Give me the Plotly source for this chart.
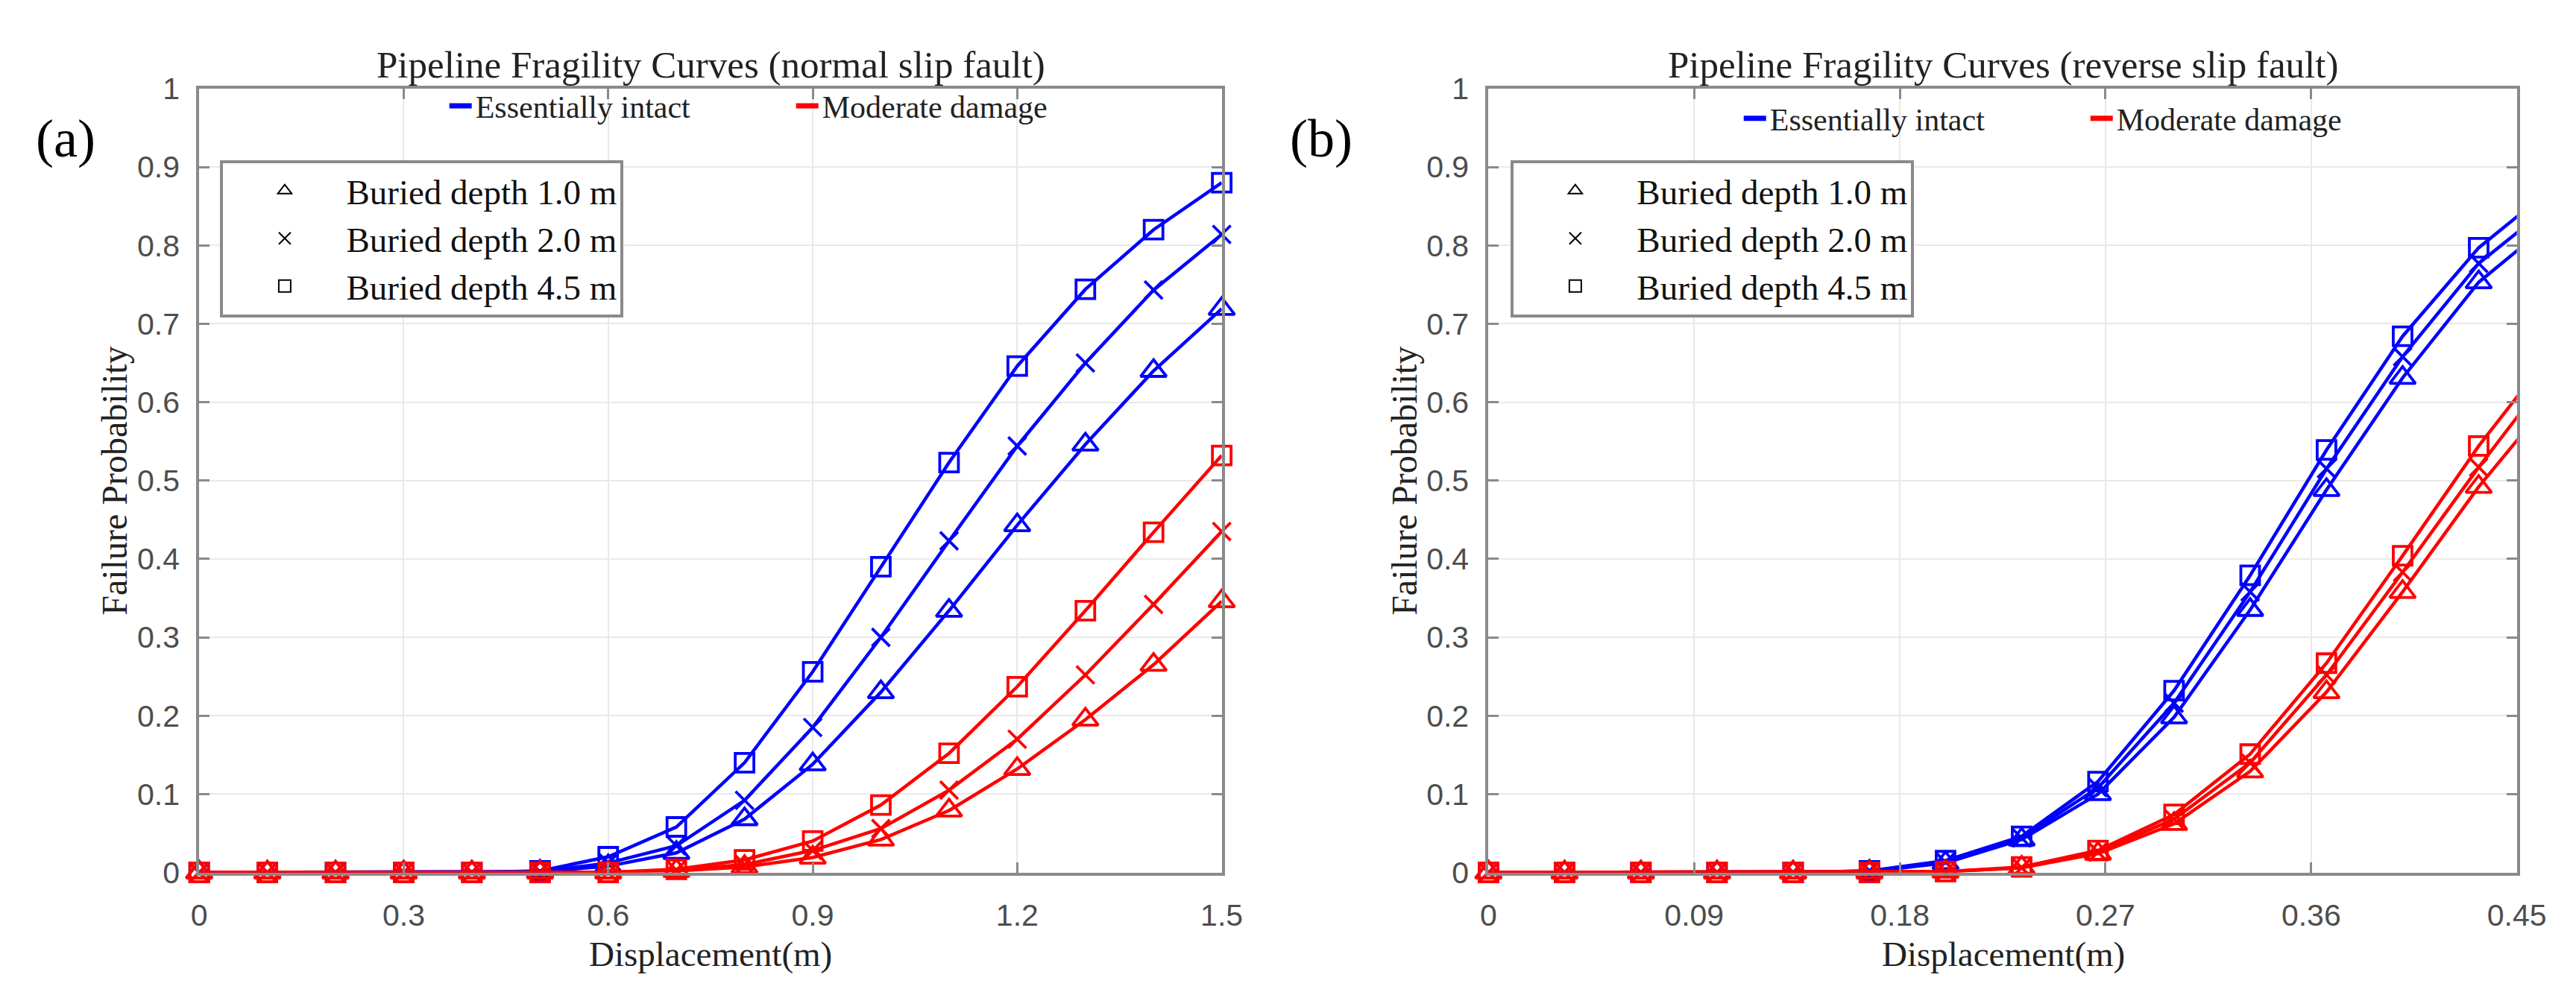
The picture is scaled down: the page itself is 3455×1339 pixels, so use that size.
import plotly.graph_objects as go

# displacement steps of the two panels
disp_normal = [0, 0.1, 0.2, 0.3, 0.4, 0.5, 0.6, 0.7, 0.8, 0.9, 1.0, 1.1, 1.2, 1.3, 1.4, 1.5]
disp_reverse = [0, 0.0333, 0.0667, 0.1, 0.1333, 0.1667, 0.2, 0.2333, 0.2667,
                0.3, 0.3333, 0.3667, 0.4, 0.4333, 0.4667]

# (a) normal slip fault
ei_10_normal = [0, 0, 0, 0, 0, 0.001, 0.008, 0.025, 0.068, 0.138, 0.23, 0.334, 0.443, 0.546, 0.64, 0.719]
ei_20_normal = [0, 0, 0, 0, 0, 0.001, 0.012, 0.034, 0.092, 0.185, 0.30, 0.423, 0.544, 0.65, 0.743, 0.814]
ei_45_normal = [0, 0, 0, 0, 0, 0.002, 0.02, 0.058, 0.14, 0.256, 0.39, 0.523, 0.646, 0.744, 0.82, 0.88]
md_10_normal = [0, 0, 0, 0, 0, 0, 0, 0.002, 0.007, 0.019, 0.042, 0.079, 0.132, 0.195, 0.265, 0.346]
md_20_normal = [0, 0, 0, 0, 0, 0, 0, 0.003, 0.01, 0.028, 0.056, 0.105, 0.17, 0.252, 0.342, 0.435]
md_45_normal = [0, 0, 0, 0, 0, 0, 0, 0.004, 0.016, 0.04, 0.086, 0.152, 0.237, 0.334, 0.434, 0.532]

# (b) reverse slip fault
ei_10_reverse = [0, 0, 0, 0, 0, 0.001, 0.012, 0.042, 0.100, 0.198, 0.335, 0.488, 0.631, 0.753, 0.833]
ei_20_reverse = [0, 0, 0, 0, 0, 0.002, 0.013, 0.044, 0.108, 0.216, 0.358, 0.515, 0.658, 0.777, 0.855]
ei_45_reverse = [0, 0, 0, 0, 0, 0.002, 0.015, 0.046, 0.116, 0.232, 0.379, 0.539, 0.684, 0.797, 0.876]
md_10_reverse = [0, 0, 0, 0, 0, 0, 0.001, 0.006, 0.024, 0.062, 0.129, 0.230, 0.358, 0.492, 0.61]
md_20_reverse = [0, 0, 0, 0, 0, 0, 0.001, 0.006, 0.026, 0.068, 0.140, 0.252, 0.383, 0.517, 0.644]
md_45_reverse = [0, 0, 0, 0, 0, 0, 0.001, 0.007, 0.028, 0.074, 0.151, 0.267, 0.404, 0.544, 0.669]

depth_names = ["Buried depth 1.0 m", "Buried depth 2.0 m", "Buried depth 4.5 m"]
state_names = ["Essentially intact", "Moderate damage"]
x_ticks_normal = [0, 0.3, 0.6, 0.9, 1.2, 1.5]
x_ticks_reverse = [0, 0.09, 0.18, 0.27, 0.36, 0.45]
y_ticks = [0, 0.1, 0.2, 0.3, 0.4, 0.5, 0.6, 0.7, 0.8, 0.9, 1]

BLUE = "rgb(0,0,255)"
RED = "rgb(255,0,0)"
SERIF = "Liberation Serif, Times New Roman, serif"
SANS = "Liberation Sans, Arial, sans-serif"
symbols = ["triangle-up-open", "x-thin-open", "square-open"]
sizes = [30, 24, 25]

fig = go.Figure()

panels = [
    ("x", "y", disp_normal,
     [ei_10_normal, ei_20_normal, ei_45_normal],
     [md_10_normal, md_20_normal, md_45_normal], "legend", "legend2"),
    ("x2", "y2", disp_reverse,
     [ei_10_reverse, ei_20_reverse, ei_45_reverse],
     [md_10_reverse, md_20_reverse, md_45_reverse], "legend3", "legend4"),
]

for xa, ya, xs, ei_list, md_list, leg_lines, leg_marks in panels:
    for color, series in [(BLUE, ei_list), (RED, md_list)]:
        for k, ys in enumerate(series):
            fig.add_trace(go.Scatter(
                x=xs, y=ys, xaxis=xa, yaxis=ya, mode="lines+markers",
                line=dict(color=color, width=4.5),
                marker=dict(symbol=symbols[k], size=sizes[k], color=color,
                            line=dict(color=color, width=3.8)),
                cliponaxis=False, showlegend=False, hoverinfo="skip"))
    # legend entries: damage state lines
    for name, color in zip(state_names, [BLUE, RED]):
        fig.add_trace(go.Scatter(
            x=[None], y=[None], xaxis=xa, yaxis=ya, mode="lines", name=name,
            line=dict(color=color, width=7), legend=leg_lines))
    # legend entries: buried depth markers
    for k, name in enumerate(depth_names):
        fig.add_trace(go.Scatter(
            x=[None], y=[None], xaxis=xa, yaxis=ya, mode="markers", name=name,
            marker=dict(symbol=symbols[k], size=sizes[k], color="black",
                        line=dict(color="black", width=2)),
            legend=leg_marks))

axis_common = dict(
    showline=True, linecolor="#8a8a8a", linewidth=4, mirror="ticks",
    ticks="inside", ticklen=14, tickwidth=3, tickcolor="#8a8a8a",
    showgrid=True, gridcolor="#e9e9e9", gridwidth=2, zeroline=False,
    tickfont=dict(family=SANS, size=41, color="#4d4d4d"),
)

ydom = [0.1187, 0.932]
line_legend = dict(orientation="h", xanchor="left", yanchor="middle",
                   bgcolor="rgba(0,0,0,0)", borderwidth=0, entrywidth=420,
                   font=dict(family=SERIF, size=42, color="#222"))
mark_legend = dict(xanchor="left", yanchor="top", bgcolor="white",
                   bordercolor="#8a8a8a", borderwidth=4, itemwidth=155,
                   font=dict(family=SERIF, size=47, color="#111"))

fig.update_layout(
    width=3455, height=1339,
    margin=dict(l=0, r=0, t=0, b=0),
    paper_bgcolor="white", plot_bgcolor="white",
    xaxis=dict(axis_common, domain=[0.0729, 0.4758], range=[0, 1.5],
               tickvals=x_ticks_normal, ticktext=[str(v) for v in x_ticks_normal],
               ticklabelstandoff=18, anchor="y"),
    yaxis=dict(axis_common, domain=ydom, range=[0, 1], tickvals=y_ticks,
               ticktext=[str(v) for v in y_ticks], ticklabelstandoff=14, anchor="x"),
    xaxis2=dict(axis_common, domain=[0.5809, 0.9861], range=[0, 0.45],
                tickvals=x_ticks_reverse, ticktext=[str(v) for v in x_ticks_reverse],
                ticklabelstandoff=18, anchor="y2"),
    yaxis2=dict(axis_common, domain=ydom, range=[0, 1], tickvals=y_ticks,
                ticktext=[str(v) for v in y_ticks], ticklabelstandoff=14, anchor="x2"),
    legend=dict(line_legend, x=0.1700, y=0.9140),
    legend3=dict(line_legend, x=0.6800, y=0.9010),
    legend2=dict(mark_legend, x=0.0812, y=0.858),
    legend4=dict(mark_legend, x=0.5897, y=0.858),
)

annotations = [
    dict(text="Pipeline Fragility Curves (normal slip fault)", x=0.2745, y=0.9570,
         font=dict(family=SERIF, size=51, color="#222")),
    dict(text="Pipeline Fragility Curves (reverse slip fault)", x=0.7837, y=0.9570,
         font=dict(family=SERIF, size=51, color="#222")),
    dict(text="Displacement(m)", x=0.2745, y=0.034,
         font=dict(family=SERIF, size=47, color="#222")),
    dict(text="Displacement(m)", x=0.7837, y=0.034,
         font=dict(family=SERIF, size=47, color="#222")),
    dict(text="Failure Probability", x=0.0395, y=0.525, textangle=-90,
         font=dict(family=SERIF, size=48, color="#222")),
    dict(text="Failure Probability", x=0.5475, y=0.525, textangle=-90,
         font=dict(family=SERIF, size=48, color="#222")),
    dict(text="(a)", x=0.0203, y=0.880, font=dict(family=SERIF, size=72, color="black")),
    dict(text="(b)", x=0.5149, y=0.880, font=dict(family=SERIF, size=72, color="black")),
]
for a in annotations:
    fig.add_annotation(xref="paper", yref="paper", showarrow=False,
                       xanchor="center", yanchor="middle", **a)

fig.write_html("out.html")
